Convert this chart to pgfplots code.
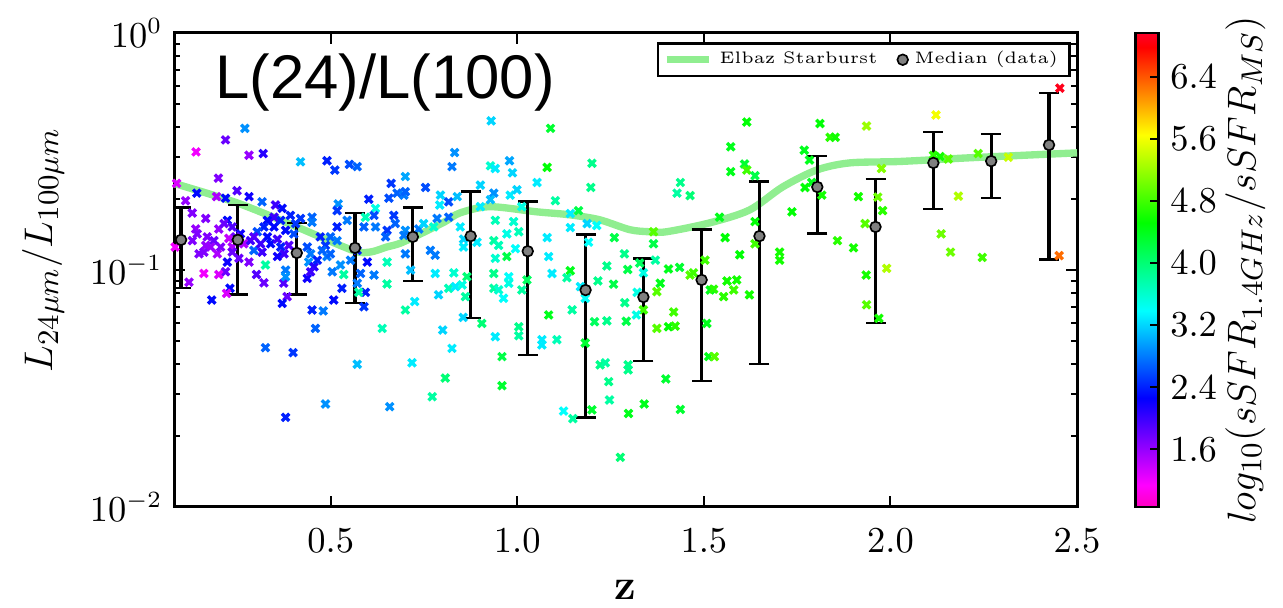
\documentclass[border=0pt]{standalone}
\usepackage{fontspec}
\newfontfamily\helv{Liberation Sans}
\usepackage{pgfplots}
\usepackage{pgfplotstable}
\pgfplotsset{compat=1.18}
\definecolor{elbaz}{RGB}{144,238,144}

% scatter: z, ratio, log10(sSFR_1.4GHz/sSFR_MS)
\pgfplotstableread{
x y c
0.270 0.396 2.9
0.218 0.354 1.8
0.139 0.315 1.2
0.281 0.305 1.6
0.319 0.310 2.1
0.419 0.286 3.1
0.490 0.289 2.4
0.511 0.264 2.5
0.550 0.279 2.6
0.199 0.244 1.7
0.087 0.232 1.3
0.249 0.216 1.9
0.281 0.204 2.2
0.141 0.211 2.3
0.111 0.196 1.6
0.194 0.204 1.5
0.218 0.201 2.3
0.316 0.194 2.7
0.352 0.188 2.0
0.129 0.174 1.7
0.165 0.165 1.7
0.370 0.182 2.3
0.392 0.170 2.4
0.419 0.165 2.5
0.450 0.167 2.7
0.450 0.159 2.8
0.520 0.190 2.9
0.517 0.178 2.5
0.544 0.162 2.8
0.517 0.152 2.4
0.348 0.167 2.0
0.330 0.162 2.3
0.321 0.152 2.4
0.303 0.145 2.6
0.223 0.162 2.3
0.236 0.152 1.9
0.200 0.149 1.6
0.138 0.149 1.6
0.142 0.142 1.7
0.169 0.138 1.7
0.187 0.133 1.8
0.178 0.125 1.6
0.160 0.119 1.7
0.147 0.117 1.7
0.196 0.117 1.5
0.227 0.136 1.4
0.236 0.125 1.5
0.236 0.119 1.8
0.267 0.129 1.5
0.285 0.133 2.0
0.294 0.121 2.7
0.281 0.108 1.7
0.254 0.112 1.8
0.223 0.108 2.2
0.218 0.0983 1.8
0.160 0.0967 1.2
0.200 0.0957 1.3
0.120 0.0888 1.6
0.083 0.125 1.2
0.325 0.105 3.8
0.301 0.0957 1.9
0.321 0.0883 1.8
0.316 0.119 2.0
0.339 0.129 2.3
0.357 0.135 2.0
0.366 0.125 2.4
0.375 0.117 2.0
0.357 0.114 2.2
0.379 0.147 2.3
0.401 0.142 2.6
0.388 0.127 1.9
0.374 0.0880 1.9
0.379 0.0999 2.8
0.379 0.0937 2.9
0.383 0.0772 1.8
0.370 0.0723 2.3
0.437 0.125 2.6
0.446 0.117 2.8
0.441 0.108 2.9
0.455 0.1032 2.1
0.437 0.0922 2.2
0.446 0.0983 2.0
0.472 0.138 2.4
0.486 0.127 2.5
0.499 0.138 2.7
0.517 0.133 2.8
0.490 0.114 2.8
0.504 0.0983 2.8
0.526 0.105 2.9
0.535 0.0957 3.8
0.530 0.0837 2.4
0.508 0.0747 2.3
0.450 0.0678 2.4
0.480 0.0672 2.8
0.459 0.0567 2.7
0.325 0.0470 2.7
0.399 0.0448 2.5
0.486 0.0272 2.9
0.379 0.0239 2.4
0.230 0.0837 2.3
0.221 0.0797 1.3
0.181 0.0747 2.3
0.214 0.157 1.8
0.258 0.142 2.2
0.294 0.138 1.9
0.165 0.127 1.6
0.129 0.133 1.7
0.205 0.125 1.7
0.245 0.138 1.8
0.330 0.138 2.3
0.312 0.129 2.0
0.348 0.152 2.3
0.366 0.162 2.4
0.406 0.157 2.5
0.477 0.121 2.7
0.464 0.110 2.4
0.499 0.117 2.7
0.553 0.110 2.8
0.930 0.426 3.2
0.832 0.313 2.9
0.825 0.273 2.8
0.571 0.273 2.7
0.979 0.289 3.0
0.987 0.257 3.2
0.928 0.275 3.6
0.941 0.268 3.3
0.700 0.248 3.0
0.662 0.232 2.5
0.754 0.223 2.6
0.678 0.211 2.7
0.696 0.207 2.8
0.700 0.214 2.7
0.656 0.201 2.6
0.602 0.199 2.4
0.620 0.182 3.5
0.593 0.167 3.7
0.616 0.170 2.6
0.589 0.152 2.7
0.620 0.152 2.8
0.669 0.170 2.5
0.673 0.157 2.7
0.651 0.147 2.5
0.647 0.138 2.7
0.700 0.147 2.9
0.696 0.140 2.8
0.736 0.149 2.8
0.749 0.157 3.2
0.776 0.152 3.6
0.785 0.165 2.8
0.816 0.167 2.7
0.794 0.207 3.2
0.792 0.188 3.3
0.816 0.194 2.6
0.839 0.204 3.1
0.901 0.228 3.2
0.937 0.211 2.9
0.928 0.198 3.1
0.981 0.207 3.3
0.999 0.218 3.2
1.012 0.185 3.5
0.901 0.185 3.3
0.941 0.162 3.7
0.990 0.160 3.6
1.004 0.145 3.7
0.972 0.142 3.5
0.937 0.133 3.8
0.950 0.127 3.7
0.995 0.123 3.4
0.972 0.114 4.2
0.941 0.112 3.6
0.892 0.131 3.3
0.856 0.135 3.2
0.847 0.152 3.3
0.856 0.125 3.3
0.571 0.121 2.4
0.598 0.108 2.3
0.580 0.0967 2.7
0.616 0.0952 2.8
0.593 0.0805 2.4
0.589 0.0700 2.5
0.571 0.0879 2.8
0.575 0.0805 3.8
0.651 0.108 3.7
0.651 0.0873 3.8
0.700 0.117 2.8
0.714 0.0999 3.1
0.767 0.121 2.8
0.780 0.1155 2.8
0.780 0.0967 3.3
0.830 0.0973 3.6
0.865 0.0937 4.0
0.816 0.0837 3.7
0.834 0.0851 3.3
0.852 0.0865 3.5
0.789 0.0786 3.2
0.725 0.0736 3.3
0.700 0.0678 3.8
0.861 0.0772 3.8
0.937 0.0967 3.9
0.937 0.0837 3.8
0.950 0.0824 3.6
0.977 0.0937 3.4
0.977 0.0879 3.5
0.963 0.0760 3.4
1.012 0.0824 3.8
1.026 0.0908 4.1
0.638 0.0567 3.7
0.800 0.0558 3.2
0.825 0.0467 3.3
0.855 0.0631 3.2
0.905 0.0595 4.0
0.941 0.0523 3.3
1.004 0.0576 3.9
1.004 0.0528 3.8
0.959 0.0431 4.2
0.959 0.0325 4.3
0.571 0.0400 3.1
0.718 0.0406 3.3
0.807 0.0350 4.0
0.772 0.0292 3.8
0.658 0.0265 2.9
1.089 0.396 4.3
1.200 0.282 3.9
1.080 0.271 4.5
1.053 0.234 3.3
1.197 0.223 3.9
1.437 0.234 3.9
1.428 0.211 3.8
1.463 0.206 4.0
1.102 0.196 3.8
1.164 0.178 4.2
1.142 0.173 3.3
1.142 0.151 3.3
1.187 0.157 3.2
1.213 0.154 3.4
1.080 0.137 3.3
1.260 0.137 4.2
1.365 0.145 4.9
1.365 0.129 4.2
1.191 0.131 3.4
1.287 0.117 3.9
1.370 0.110 3.8
1.084 0.114 3.3
1.328 0.107 4.1
1.338 0.0973 3.5
1.240 0.104 3.9
1.296 0.1005 4.2
1.405 0.101 4.4
1.435 0.1026 4.3
1.463 0.0952 4.9
1.472 0.0973 4.8
1.503 0.110 4.8
1.093 0.0967 3.3
1.142 0.0993 4.4
1.133 0.0928 3.8
1.216 0.0899 3.9
1.169 0.0851 3.3
1.258 0.0871 4.2
1.383 0.0879 4.4
1.321 0.0805 3.5
1.374 0.0810 4.9
1.182 0.0760 3.4
1.338 0.0679 4.8
1.288 0.0728 3.9
1.319 0.0646 3.5
1.292 0.0608 4.2
1.240 0.0610 3.9
1.207 0.0605 4.1
1.419 0.0665 4.8
1.405 0.0576 4.5
1.423 0.0580 4.7
1.374 0.0567 4.9
1.508 0.0595 4.4
1.517 0.0824 4.4
1.147 0.0679 3.8
1.084 0.0646 4.4
1.066 0.0508 3.3
1.066 0.0483 3.3
1.106 0.0508 3.7
1.182 0.0492 4.3
1.222 0.0398 3.9
1.236 0.0406 3.8
1.297 0.0398 3.9
1.297 0.0379 3.9
1.245 0.0338 3.9
1.247 0.0283 3.8
1.398 0.0347 4.3
1.513 0.0431 4.4
1.124 0.0254 3.4
1.149 0.0236 3.8
1.200 0.0257 4.3
1.298 0.0248 4.4
1.340 0.0272 4.4
1.437 0.0258 4.3
1.276 0.0162 4.0
1.615 0.421 4.5
1.811 0.415 4.5
1.936 0.405 5.2
1.572 0.331 4.4
1.838 0.363 4.7
1.852 0.363 4.6
1.769 0.320 4.4
1.783 0.291 4.4
1.609 0.280 4.3
1.615 0.264 4.8
1.572 0.260 4.4
1.637 0.250 4.2
1.789 0.234 4.4
1.771 0.223 4.5
1.816 0.207 4.6
1.914 0.204 4.6
1.966 0.203 5.0
1.976 0.268 5.1
1.979 0.178 4.7
1.736 0.176 4.5
1.542 0.167 4.4
1.637 0.160 4.5
1.932 0.157 4.9
1.557 0.137 4.5
1.637 0.129 4.8
1.596 0.116 4.5
1.703 0.119 4.6
1.703 0.110 4.6
1.858 0.133 4.7
1.901 0.124 4.6
1.990 0.1016 5.3
1.935 0.0952 4.6
1.562 0.0899 4.6
1.588 0.0908 4.6
1.580 0.0824 4.8
1.553 0.0772 4.7
1.526 0.0830 4.7
1.622 0.0786 4.6
1.936 0.0713 4.9
1.969 0.0625 4.6
1.528 0.0431 4.9
2.122 0.451 5.6
2.115 0.305 4.7
2.133 0.301 4.6
2.155 0.294 4.9
2.235 0.310 4.9
2.316 0.299 5.4
2.182 0.205 5.3
2.136 0.142 5.0
2.161 0.119 5.0
2.246 0.113 4.8
2.454 0.585 6.9
2.452 0.115 6.3
}\scatterdata

% medians with error bars
\pgfplotstableread{
x y ep em
0.099 0.134 0.049 0.050
0.251 0.134 0.054 0.055
0.409 0.118 0.040 0.039
0.565 0.124 0.050 0.0514
0.720 0.138 0.046 0.0481
0.875 0.139 0.076 0.0763
1.028 0.120 0.075 0.0762
1.183 0.0823 0.0587 0.0585
1.338 0.0769 0.0351 0.0356
1.494 0.0908 0.0572 0.0568
1.649 0.139 0.098 0.0989
1.804 0.224 0.079 0.081
1.960 0.152 0.090 0.0922
2.115 0.283 0.099 0.102
2.270 0.288 0.087 0.087
2.425 0.337 0.221 0.226
}\mediandata

\begin{document}
\begin{tikzpicture}
\begin{axis}[
  scale only axis, width=270.9pt, height=142.2pt,
  ymode=log, xmin=0.08, xmax=2.5, ymin=1e-2, ymax=1,
  xtick={0.5,1.0,1.5,2.0,2.5},
  xticklabel style={/pgf/number format/fixed, /pgf/number format/fixed zerofill, /pgf/number format/precision=1, yshift=-3pt},
  tick label style={font=\fontsize{10.5}{12}\selectfont},
  tick align=inside,
  major tick length=3.2pt, minor tick length=1.8pt,
  every tick/.style={black, line width=0.6pt},
  axis line style={line width=0.9pt},
  xlabel={\textbf{z}},
  xlabel style={font=\fontsize{13}{15}\selectfont, at={(axis description cs:0.5,-0.175)}, anchor=center},
  ylabel={$L_{24\mu m}/L_{100\mu m}$},
  ylabel style={font=\fontsize{12.5}{14}\selectfont, at={(axis description cs:-0.145,0.542)}, anchor=center},
  colormap={gistrr}{rgb(0pt)=(1,0,0.75); rgb(46pt)=(1,0,1); rgb(230pt)=(0,0,1); rgb(414pt)=(0,1,1); rgb(600pt)=(0,1,0); rgb(785pt)=(1,1,0); rgb(970pt)=(1,0,0); rgb(1000pt)=(1,0,0.16)},
  point meta min=0.86, point meta max=6.96,
  colorbar,
  colorbar style={
    scale only axis, width=6.9pt,
    at={(parent axis.north east)}, anchor=north west, xshift=9pt,
    ytick={1.6,2.4,3.2,4.0,4.8,5.6,6.4},
    yticklabel style={/pgf/number format/fixed, /pgf/number format/fixed zerofill, /pgf/number format/precision=1, font=\fontsize{10.5}{12}\selectfont},
    tick align=inside, ytick pos=right, major tick length=2.4pt,
    every tick/.style={black, line width=0.6pt},
    axis line style={line width=0.8pt},
    ylabel={$log_{10}(sSFR_{1.4GHz}/sSFR_{MS})$},
    ylabel style={font=\fontsize{12.5}{14}\selectfont, at={(axis description cs:4.78,0.5)}, anchor=center},
  },
  legend columns=2,
  legend style={at={(rel axis cs:0.9933,0.981)}, anchor=north east, draw=black, line width=0.8pt,
    font=\fontsize{5}{6}\selectfont, inner xsep=1.5pt, inner ysep=0.3pt,
    /tikz/every even column/.append style={column sep=4pt}},
]
\addplot[scatter, only marks, mark=x, mark size=1.55pt, forget plot,
  scatter src=explicit, scatter/use mapped color={draw=mapped color, fill=mapped color},
  mark options={line width=1pt}]
  table[x=x, y=y, meta=c] {\scatterdata};

\addplot[elbaz, line width=2.2pt, smooth, mark=none,
  legend image code/.code={\draw[elbaz, line width=2.2pt] (0cm,0cm) -- (0.45cm,0cm);}]
  coordinates {
  (0.080,0.232)(0.249,0.192)(0.409,0.152)(0.559,0.121)(0.605,0.119)(0.650,0.125)
  (0.693,0.131)(0.800,0.158)(0.846,0.174)(0.926,0.185)(1.052,0.176)(1.140,0.171)
  (1.220,0.163)(1.301,0.148)(1.354,0.145)(1.400,0.145)(1.515,0.158)(1.622,0.179)
  (1.711,0.224)(1.802,0.264)(1.890,0.283)(2.024,0.287)(2.203,0.297)(2.380,0.306)(2.500,0.312)
  };
\addlegendentry{Elbaz Starburst}

\addplot[only marks, mark=*, mark size=1.6pt, mark options={fill=gray, draw=black, line width=0.5pt},
  error bars/.cd, y dir=both, y explicit,
  error bar style={black, line width=1pt},
  error mark options={rotate=90, black, line width=0.8pt, mark size=3pt}]
  table[x=x, y=y, y error plus=ep, y error minus=em] {\mediandata};
\addlegendentry{Median (data)}

\node[anchor=west, inner sep=0pt, font=\helv\fontsize{18.5}{20}\selectfont] at (rel axis cs:0.045,0.895) {L(24)/L(100)};
\coordinate (bbsw) at (rel axis cs:-0.1927,-0.211);
\coordinate (bbne) at (rel axis cs:1.2281,1.0696);
\end{axis}
\pgfresetboundingbox
\path[use as bounding box] (bbsw) rectangle (bbne);
\end{tikzpicture}
\end{document}
